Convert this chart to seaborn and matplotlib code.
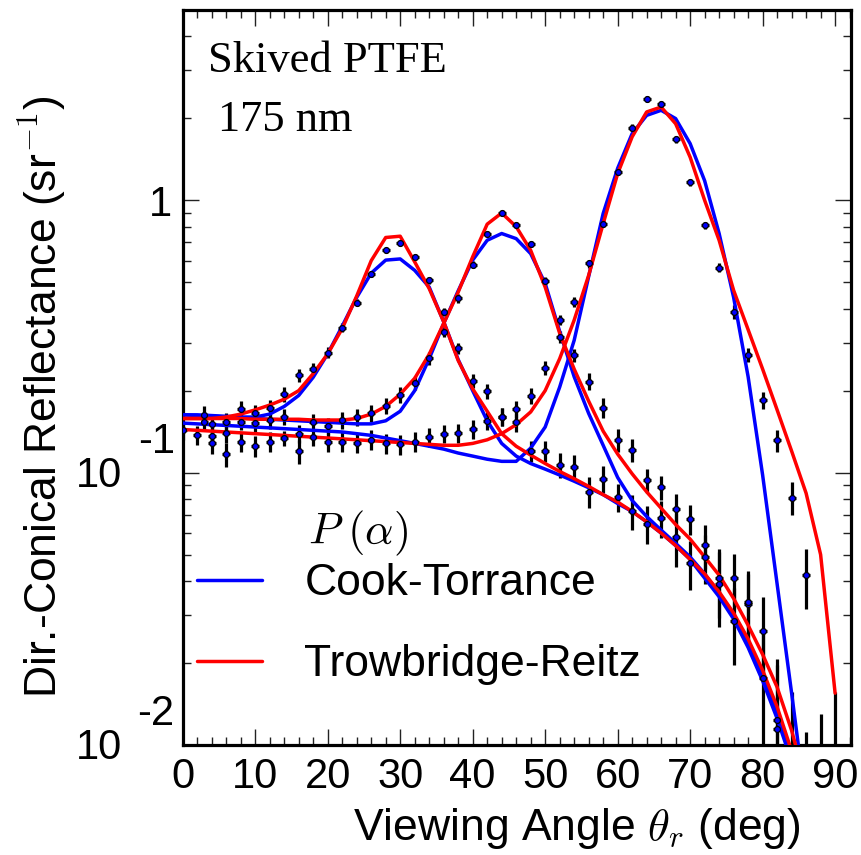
import numpy as np
import pandas as pd
import matplotlib
matplotlib.use("Agg")
import matplotlib.pyplot as plt
import seaborn as sns
from matplotlib.lines import Line2D
from matplotlib.ticker import LogLocator, NullFormatter, MultipleLocator

# ---------------- data ----------------
fit_angle = [0, 2, 4, 6, 8, 10, 12, 14, 16, 18, 20, 22, 24, 26, 28, 30, 32, 34, 36, 38,
             40, 42, 44, 46, 48, 50, 52, 54, 56, 58, 60, 62, 64, 66, 68, 70, 72, 74, 76, 78,
             80, 82, 84, 86, 88, 90]

ct_30 = [0.163, 0.163, 0.162, 0.161, 0.160, 0.160, 0.164, 0.175, 0.192, 0.224, 0.273, 0.345,
         0.44, 0.54, 0.603, 0.609, 0.553, 0.48, 0.358, 0.26, 0.2, 0.155, 0.128, 0.115, 0.108,
         0.103, 0.098, 0.093, 0.088, 0.083, 0.077, 0.072, 0.066, 0.060, 0.054, 0.048, 0.041,
         0.035, 0.029, 0.0228, 0.0172, 0.0125, 0.0087, 0.0058, 0.0037, 0.0022]
tr_30 = [0.158, 0.158, 0.158, 0.160, 0.164, 0.170, 0.177, 0.186, 0.200, 0.231, 0.273, 0.338,
         0.445, 0.60, 0.73, 0.738, 0.594, 0.474, 0.358, 0.258, 0.203, 0.168, 0.139, 0.125,
         0.116, 0.108, 0.101, 0.095, 0.089, 0.083, 0.078, 0.072, 0.066, 0.060, 0.054, 0.048,
         0.0425, 0.0365, 0.0305, 0.0245, 0.0188, 0.0138, 0.0095, 0.0063, 0.004, 0.0025]
ct_45 = [0.163, 0.162, 0.161, 0.160, 0.159, 0.158, 0.157, 0.156, 0.155, 0.154, 0.153, 0.152,
         0.151, 0.151, 0.155, 0.168, 0.200, 0.262, 0.353, 0.465, 0.603, 0.713, 0.755, 0.723,
         0.637, 0.495, 0.33, 0.225, 0.165, 0.126, 0.096, 0.079, 0.069, 0.0615, 0.055, 0.049,
         0.0425, 0.036, 0.030, 0.0235, 0.0178, 0.013, 0.009, 0.006, 0.0038, 0.0023]
tr_45 = [0.158, 0.158, 0.158, 0.158, 0.158, 0.157, 0.157, 0.157, 0.157, 0.156, 0.156, 0.156,
         0.158, 0.164, 0.175, 0.194, 0.222, 0.272, 0.353, 0.46, 0.62, 0.817, 0.898, 0.80,
         0.655, 0.48, 0.325, 0.24, 0.183, 0.142, 0.117, 0.099, 0.085, 0.074, 0.0645, 0.057,
         0.049, 0.042, 0.0345, 0.0275, 0.0215, 0.0163, 0.0113, 0.0072, 0.0045, 0.0028]
ct_60 = [0.152, 0.151, 0.150, 0.149, 0.148, 0.147, 0.146, 0.145, 0.144, 0.143, 0.142, 0.141,
         0.139, 0.137, 0.134, 0.131, 0.128, 0.125, 0.122, 0.118, 0.115, 0.112, 0.110, 0.110,
         0.123, 0.147, 0.206, 0.306, 0.525, 0.894, 1.31, 1.757, 2.05, 2.14, 1.995, 1.615,
         1.18, 0.755, 0.44, 0.225, 0.098, 0.039, 0.0155, 0.006, 0.0025, 0.001]
tr_60 = [0.144, 0.143, 0.142, 0.141, 0.140, 0.139, 0.138, 0.137, 0.136, 0.135, 0.134, 0.133,
         0.132, 0.131, 0.130, 0.129, 0.128, 0.127, 0.126, 0.126, 0.128, 0.132, 0.139, 0.150,
         0.167, 0.20, 0.262, 0.363, 0.53, 0.82, 1.253, 1.71, 2.11, 2.20, 1.91, 1.44, 1.0,
         0.713, 0.467, 0.335, 0.24, 0.17, 0.12, 0.084, 0.05, 0.0155]

x_a = [0, 3, 4, 6, 8, 10, 12, 14, 16, 18, 20, 22, 24, 26, 28, 30, 32, 34, 36, 38, 40, 42,
       44, 46, 48, 50, 52, 54, 56, 58, 60, 62, 64, 66, 68, 70, 72, 74, 76, 78, 80, 82, 86]
y_a = [0.143, 0.163, 0.151, 0.154, 0.171, 0.165, 0.172, 0.194, 0.228, 0.241, 0.276, 0.341,
       0.421, 0.538, 0.655, 0.694, 0.618, 0.508, 0.329, 0.286, 0.217, 0.199, 0.160, 0.153,
       0.120, 0.120, 0.107, 0.105, 0.085, 0.095, 0.0814, 0.072, 0.065, 0.068, 0.058, 0.0466,
       0.049, 0.039, 0.0286, 0.0329, 0.0176, 0.0114, 0.004]
e_a = [0.011, 0.012, 0.012, 0.011, 0.012, 0.012, 0.012, 0.012, 0.012, 0.012, 0.013, 0.013,
       0.013, 0.014, 0.015, 0.016, 0.015, 0.014, 0.013, 0.013, 0.0125, 0.012, 0.012, 0.012,
       0.011, 0.011, 0.0115, 0.011, 0.011, 0.0107, 0.0095, 0.0105, 0.0105, 0.0105, 0.013,
       0.0095, 0.010, 0.012, 0.009, 0.0095, 0.009, 0.0082, 0.0072]

x_b = [2, 3, 4, 6, 8, 10, 12, 14, 16, 18, 20, 22, 24, 26, 28, 30, 32, 34, 36, 38, 40, 42,
       44, 46, 48, 50, 52, 54, 56, 58, 60, 62, 64, 66, 68, 70, 72, 74, 76, 78, 80, 82, 84]
y_b = [0.137, 0.153, 0.136, 0.140, 0.154, 0.152, 0.156, 0.160, 0.139, 0.153, 0.148, 0.156,
       0.160, 0.165, 0.176, 0.193, 0.214, 0.263, 0.389, 0.436, 0.581, 0.755, 0.898, 0.810,
       0.690, 0.505, 0.363, 0.270, 0.216, 0.173, 0.1316, 0.121, 0.094, 0.0883, 0.0738,
       0.0675, 0.0542, 0.0409, 0.0409, 0.0336, 0.0263, 0.0124, 0.006]
e_b = [0.011, 0.011, 0.011, 0.012, 0.011, 0.011, 0.011, 0.011, 0.010, 0.011, 0.011, 0.011,
       0.0117, 0.012, 0.012, 0.013, 0.013, 0.014, 0.014, 0.015, 0.016, 0.018, 0.020, 0.020,
       0.018, 0.017, 0.0155, 0.0155, 0.0155, 0.0145, 0.0125, 0.012, 0.0095, 0.009, 0.010,
       0.0085, 0.010, 0.0117, 0.0092, 0.010, 0.0087, 0.0082, 0.0097]

x_c = [4, 6, 8, 10, 12, 14, 16, 18, 20, 22, 24, 26, 28, 30, 32, 34, 36, 38, 40, 42, 44, 46,
       48, 50, 52, 54, 56, 58, 60, 62, 64, 66, 68, 70, 72, 74, 76, 78, 80, 82, 84, 86, 88, 90]
y_c = [0.128, 0.117, 0.130, 0.125, 0.130, 0.134, 0.120, 0.135, 0.130, 0.130, 0.129, 0.132,
       0.128, 0.127, 0.130, 0.135, 0.139, 0.140, 0.144, 0.155, 0.160, 0.171, 0.191, 0.243,
       0.315, 0.424, 0.586, 0.821, 1.274, 1.848, 2.347, 2.257, 1.674, 1.167, 0.810, 0.566,
       0.389, 0.270, 0.1845, 0.1316, 0.081, 0.042, 0.004, 0.005]
e_c = [0.011, 0.012, 0.011, 0.011, 0.011, 0.0085, 0.012, 0.010, 0.011, 0.011, 0.011, 0.011,
       0.011, 0.011, 0.011, 0.011, 0.011, 0.011, 0.0115, 0.012, 0.012, 0.012, 0.013, 0.014,
       0.016, 0.018, 0.020, 0.025, 0.035, 0.050, 0.060, 0.060, 0.045, 0.035, 0.025, 0.022,
       0.022, 0.0157, 0.0135, 0.0122, 0.011, 0.0103, 0.009, 0.0106]

model_names = ["Cook-Torrance", "Trowbridge-Reitz"]
model_colors = {"Cook-Torrance": "#0000ff", "Trowbridge-Reitz": "#ff0000"}

# ---------------- tables ----------------
fit_rows = []
for inc, ct, tr in [(30, ct_30, tr_30), (45, ct_45, tr_45), (60, ct_60, tr_60)]:
    for a, v in zip(fit_angle, ct):
        fit_rows.append((a, v, "Cook-Torrance", inc))
    for a, v in zip(fit_angle, tr):
        fit_rows.append((a, v, "Trowbridge-Reitz", inc))
fits = pd.DataFrame(fit_rows, columns=["angle", "value", "model", "incidence"])
fits["curve"] = fits["model"] + fits["incidence"].astype(str)

pt_rows = []
for inc, xs, ys, es in [(30, x_a, y_a, e_a), (45, x_b, y_b, e_b), (60, x_c, y_c, e_c)]:
    for a, v, e in zip(xs, ys, es):
        pt_rows.append((a, v, e, inc))
pts = pd.DataFrame(pt_rows, columns=["angle", "value", "err", "incidence"])
lower = np.minimum(pts["err"].values, pts["value"].values * 0.999)
upper = pts["err"].values

# ---------------- style ----------------
sns.set_style("ticks")
plt.rcParams["font.family"] = ["Liberation Sans", "DejaVu Sans"]
plt.rcParams["mathtext.fontset"] = "cm"
for k in ["text.color", "axes.labelcolor", "xtick.color", "ytick.color"]:
    plt.rcParams[k] = "black"

FS = 32
TFS = 30
fig = plt.figure(figsize=(8.62, 8.55), dpi=100)
ax = fig.add_axes([0.212, 0.1287, 0.7753, 0.8597])
ax.set_yscale("log")

ax.errorbar(pts["angle"], pts["value"], yerr=[lower, upper], xerr=0.55, fmt="none",
            ecolor="black", elinewidth=2.3, capsize=0, zorder=2)
sns.lineplot(data=fits, x="angle", y="value", hue="model", units="curve",
             estimator=None, palette=model_colors, linewidth=2.5, legend=False,
             sort=False, ax=ax, zorder=3)
sns.scatterplot(data=pts, x="angle", y="value", color="#0000ff", edgecolor="black",
                linewidth=0.9, s=18, zorder=4, ax=ax, legend=False)

ax.set_xlim(0, 92.2)
ax.set_ylim(0.01, 5.0)

ax.xaxis.set_major_locator(MultipleLocator(10))
ax.xaxis.set_minor_locator(MultipleLocator(2))
ax.set_yticks([0.01, 0.1, 1], labels=["", "", "1"])
ax.yaxis.set_minor_locator(LogLocator(base=10, subs=[2, 3, 4, 5, 6, 7, 8, 9]))
ax.yaxis.set_minor_formatter(NullFormatter())

ax.tick_params(which="both", direction="in", top=True, right=True, width=1.0,
               color="#222222", labelsize=TFS, labelcolor="black")
ax.tick_params(which="major", length=11.5)
ax.tick_params(which="minor", length=6)
ax.tick_params(axis="x", pad=9)
ax.tick_params(axis="y", pad=8)
for s in ax.spines.values():
    s.set_linewidth(2.3)
    s.set_color("black")

for val, ex in [(0.1, "-1"), (0.01, "-2")]:
    ax.annotate("10", xy=(0, val), xycoords=("axes fraction", "data"), xytext=(-61, -3),
                textcoords="offset pixels", ha="right", va="center", fontsize=TFS,
                annotation_clip=False)
    ax.annotate(ex, xy=(0, val), xycoords=("axes fraction", "data"), xytext=(-8, 31),
                textcoords="offset pixels", ha="right", va="center", fontsize=TFS,
                annotation_clip=False)

ax.set_xlabel(r"Viewing Angle $\theta_r$ (deg)", fontsize=FS, loc="right")
ax.xaxis.set_label_coords(0.924, -0.083)
ax.set_ylabel(r"Dir.-Conical Reflectance (sr$^{\mathsf{-1}}$)", fontsize=FS, loc="top")
ax.yaxis.set_label_coords(-0.172, 0.884)

ax.text(0.038, 0.9156, "Skived PTFE", transform=ax.transAxes,
        family=["Liberation Serif"], fontsize=32, va="baseline")
ax.text(0.053, 0.835, "175 nm", transform=ax.transAxes,
        family=["Liberation Serif"], fontsize=32, va="baseline")

ax.text(0.188, 0.288, r"$P\;(\alpha)$", transform=ax.transAxes, fontsize=FS, va="center")
handles = [Line2D([], [], color=model_colors[m], lw=2.5) for m in model_names]
ax.legend(handles, model_names, loc="center left", bbox_to_anchor=(0.0217, 0.164),
          frameon=False, fontsize=FS, handlelength=1.46, handletextpad=0.95,
          labelspacing=0.9, borderpad=0, borderaxespad=0)

fig.savefig("out.png", dpi=100)
